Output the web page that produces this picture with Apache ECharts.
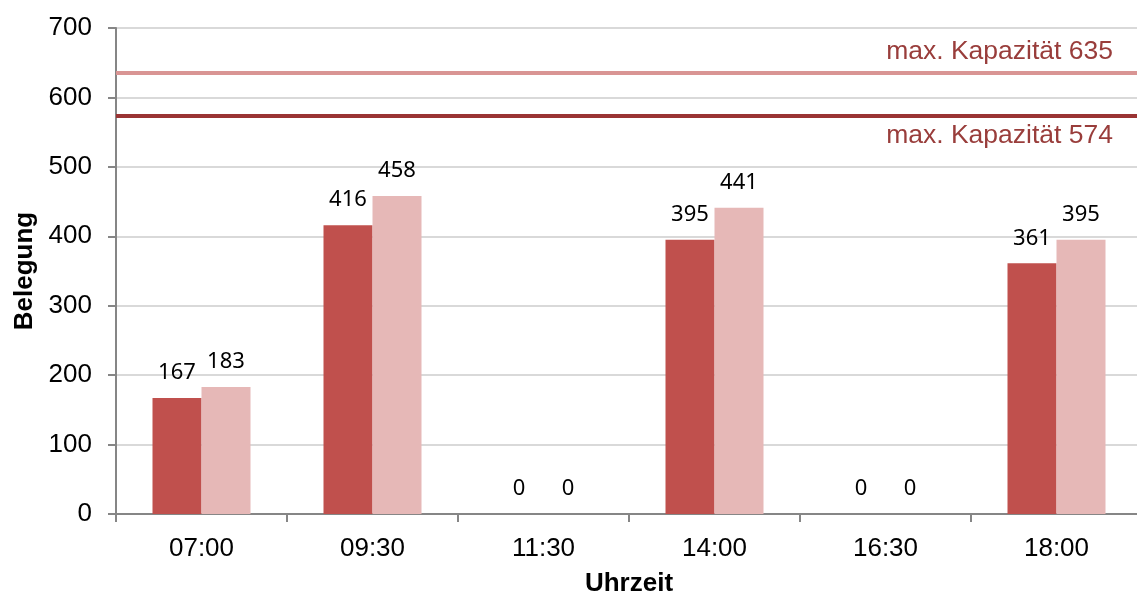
<!DOCTYPE html>
<html>
<head>
<meta charset="utf-8">
<script src="https://cdn.jsdelivr.net/npm/echarts@6/dist/echarts.min.js"></script>
<style>html,body{margin:0;padding:0;background:#fff}#c{width:1137px;height:596px}</style>
</head>
<body>
<div id="c"></div>
<script>
const categories = ['07:00', '09:30', '11:30', '14:00', '16:30', '18:00'];
const seriesA = [167, 416, 0, 395, 0, 361];
const seriesB = [183, 458, 0, 441, 0, 395];
const capacityHigh = 635;
const capacityLow = 574;
const yTicks = { min: 0, max: 700, interval: 100 };

const chart = echarts.init(document.getElementById('c'));
const labelStyle = { show: true, position: 'top', distance: 14, color: '#000', fontFamily: 'Noto Sans', fontSize: 22 };
chart.setOption({
  animation: false,
  grid: { left: 116, top: 28, right: -5, bottom: 82, outerBoundsMode: 'none', containLabel: false },
  xAxis: {
    type: 'category', data: categories,
    name: 'Uhrzeit', nameLocation: 'middle', nameGap: 57,
    nameTextStyle: { fontFamily: 'Liberation Sans', fontSize: 26, fontWeight: 'bold', color: '#000' },
    axisLine: { lineStyle: { color: '#868686', width: 2 } },
    axisTick: { show: true, length: 8, lineStyle: { color: '#868686', width: 2 } },
    axisLabel: { margin: 22, fontFamily: 'Liberation Sans', fontSize: 26, color: '#000' }
  },
  yAxis: {
    type: 'value', min: yTicks.min, max: yTicks.max, interval: yTicks.interval,
    name: 'Belegung', nameLocation: 'middle', nameGap: 76, nameRotate: 90,
    nameTextStyle: { fontFamily: 'Liberation Sans', fontSize: 26, fontWeight: 'bold', color: '#000' },
    axisLine: { show: true, lineStyle: { color: '#868686', width: 2 } },
    axisTick: { show: true, length: 8, lineStyle: { color: '#868686', width: 2 } },
    axisLabel: { margin: 24, fontFamily: 'Liberation Sans', fontSize: 26, color: '#000' },
    splitLine: { lineStyle: { color: '#d9d9d9', width: 2 } }
  },
  series: [
    {
      type: 'bar', data: seriesA, barWidth: 49, barGap: '0%',
      itemStyle: { color: '#c0504d' }, label: labelStyle,
      markLine: {
        silent: true, symbol: ['none', 'none'],
        data: [
          { yAxis: capacityHigh, lineStyle: { color: '#d99594', width: 4, type: 'solid' },
            label: { show: true, position: 'insideEndTop', formatter: 'max. Kapazität ' + capacityHigh, color: '#993d3b', fontFamily: 'Liberation Sans', fontSize: 26.5, distance: [29, 8] } },
          { yAxis: capacityLow, lineStyle: { color: '#9a3434', width: 4, type: 'solid' },
            label: { show: true, position: 'insideEndBottom', formatter: 'max. Kapazität ' + capacityLow, color: '#993d3b', fontFamily: 'Liberation Sans', fontSize: 26.5, distance: [29, 7] } }
        ]
      }
    },
    {
      type: 'bar', data: seriesB, barWidth: 49, barGap: '0%',
      itemStyle: { color: '#e6b8b7' }, label: labelStyle
    }
  ]
});
</script>
</body>
</html>
